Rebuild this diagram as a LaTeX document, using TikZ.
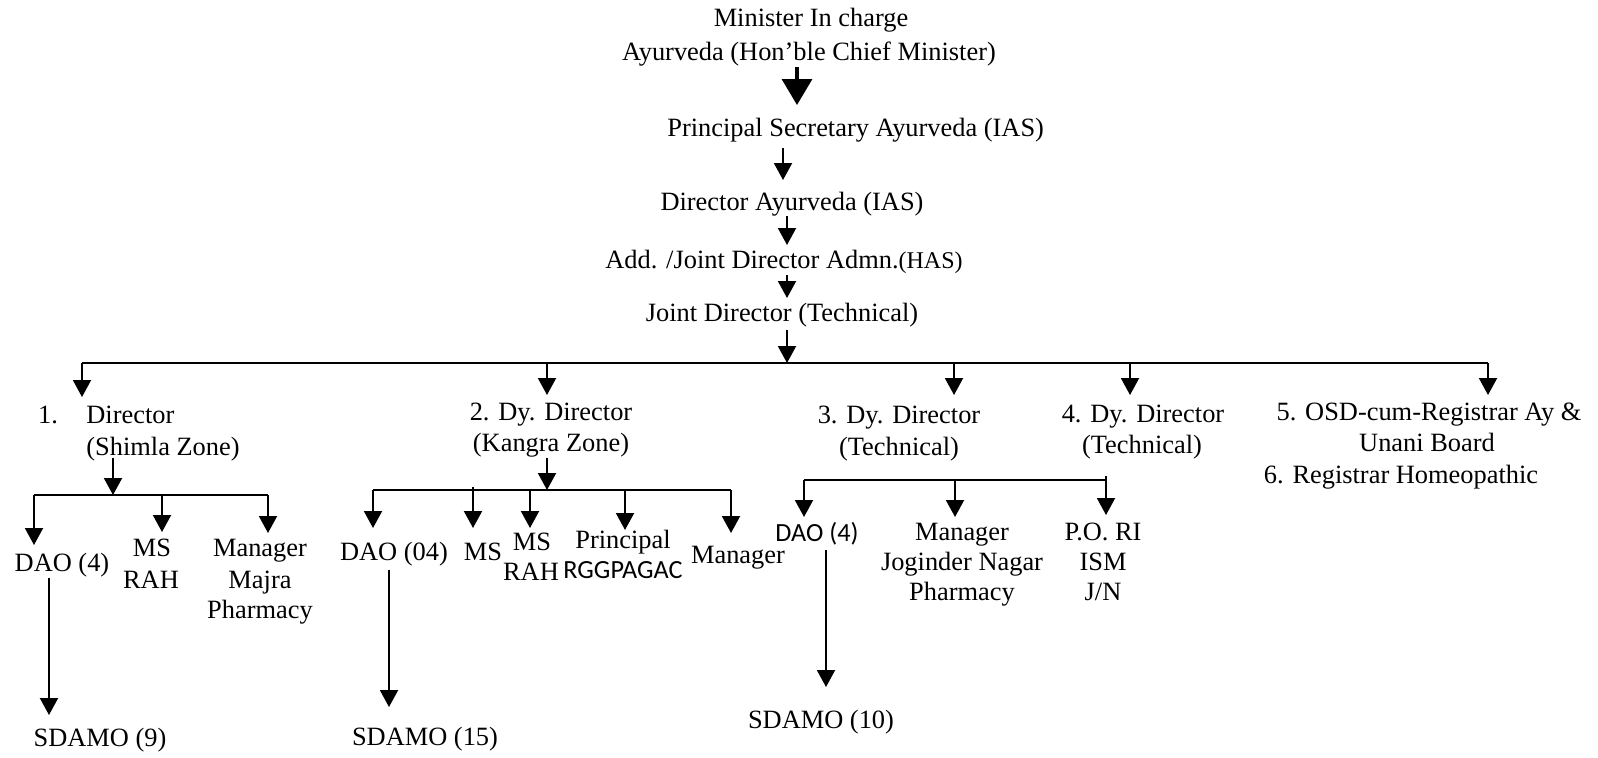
\documentclass[tikz,border=0pt]{standalone}
\usepackage{fontspec}
\setmainfont{Liberation Serif}
\newfontfamily\sansf{Carlito}
\usetikzlibrary{arrows.meta}
\begin{document}
\begin{tikzpicture}[x=0.5pt,y=-0.5pt,
  t/.style={inner sep=0pt, anchor=base, font=\fontsize{13.2}{15}\selectfont},
  ts/.style={inner sep=0pt, anchor=base, font=\sansf\fontsize{13.1}{15}\selectfont},
  ln/.style={line width=1pt},
  arr/.style={line width=1pt, -{Triangle[width=9pt,length=8.5pt]}},
  bigarr/.style={line width=1.6pt, -{Triangle[width=15pt,length=13pt]}}]
\useasboundingbox (0,0) rectangle (1598,757);
% ---- top chain
\node[t] (min1) at (811,26) {Minister In charge};
\node[t] (min2) at (809,60) {Ayurveda (Hon’ble Chief Minister)};
\node[t,anchor=base west] (ps) at (667,136) {Principal Secretary Ayurveda (IAS)};
\node[t] (da) at (792,210) {Director Ayurveda (IAS)};
\node[t] (ad) at (784,268) {Add. /Joint Director Admn.{\fontsize{12}{14}\selectfont(HAS)}};
\node[t] (jd) at (782,321) {Joint Director (Technical)};
\coordinate (c1a) at (797,67);  \coordinate (c1b) at (797,105);
\coordinate (c2a) at (783,148); \coordinate (c2b) at (783,180);
\coordinate (c3a) at (787,216); \coordinate (c3b) at (787,245);
\coordinate (c4a) at (787,275); \coordinate (c4b) at (787,298);
\coordinate (c5a) at (787,330); \coordinate (c5b) at (787,363);
\draw[bigarr] (c1a) -- (c1b);
\draw[arr] (c2a) -- (c2b);
\draw[arr] (c3a) -- (c3b);
\draw[arr] (c4a) -- (c4b);
\draw[arr] (c5a) -- (c5b);
% ---- main bus
\coordinate (b1) at (82,363); \coordinate (b2) at (547,363);
\coordinate (b3) at (954,363); \coordinate (b4) at (1130,363);
\coordinate (b5) at (1488,363);
\draw[ln] (b1) -- (b5);
\coordinate (e1) at (82,397); \coordinate (e2) at (547,395);
\coordinate (e3) at (954,395); \coordinate (e4) at (1130,395);
\coordinate (e5) at (1488,395);
\draw[arr] (b1) -- (e1);
\draw[arr] (b2) -- (e2);
\draw[arr] (b3) -- (e3);
\draw[arr] (b4) -- (e4);
\draw[arr] (b5) -- (e5);
% ---- level 1 labels
\node[t] (n1) at (48,423) {1.};
\node[t,anchor=base west] (d1a) at (86,423) {Director};
\node[t,anchor=base west] (d1b) at (86,455) {(Shimla Zone)};
\node[t] (d2a) at (551,420) {2. Dy. Director};
\node[t] (d2b) at (551,451) {(Kangra Zone)};
\node[t] (d3a) at (899,423) {3. Dy. Director};
\node[t] (d3b) at (899,455) {(Technical)};
\node[t] (d4a) at (1143,422) {4. Dy. Director};
\node[t] (d4b) at (1142,453) {(Technical)};
\node[t] (o5a) at (1429,420) {5. OSD-cum-Registrar Ay \&};
\node[t] (o5b) at (1427,451) {Unani Board};
\node[t] (o6) at (1401,483) {6. Registrar Homeopathic};
% ---- Shimla subtree
\coordinate (sa) at (113,458); \coordinate (sb) at (113,495);
\draw[arr] (sa) -- (sb);
\coordinate (s1) at (34,495); \coordinate (s2) at (162,495); \coordinate (s3) at (268,495);
\draw[ln] (s1) -- (s3);
\coordinate (s1e) at (34,545); \coordinate (s2e) at (162,532); \coordinate (s3e) at (268,533);
\draw[arr] (s1) -- (s1e);
\draw[arr] (s2) -- (s2e);
\draw[arr] (s3) -- (s3e);
\node[t] (sdao) at (62,571) {DAO (4)};
\node[t] (sms1) at (152,556) {MS};
\node[t] (sms2) at (151,588) {RAH};
\node[t] (smg1) at (260,556) {Manager};
\node[t] (smg2) at (260,588) {Majra};
\node[t] (smg3) at (260,618) {Pharmacy};
\coordinate (sd1) at (49,578); \coordinate (sd2) at (49,715);
\draw[arr] (sd1) -- (sd2);
\node[t] (ssd) at (100,746) {SDAMO (9)};
% ---- Kangra subtree
\coordinate (ka) at (547,458); \coordinate (kb) at (547,490);
\draw[arr] (ka) -- (kb);
\coordinate (k1) at (373,490); \coordinate (k2) at (473,487); \coordinate (k3) at (530,490);
\coordinate (k4) at (625,490); \coordinate (k5) at (731,490);
\draw[ln] (k1) -- (k5);
\coordinate (k1e) at (373,528); \coordinate (k2e) at (473,528); \coordinate (k3e) at (530,528);
\coordinate (k4e) at (625,530); \coordinate (k5e) at (731,533);
\draw[arr] (k1) -- (k1e);
\draw[arr] (k2) -- (k2e);
\draw[arr] (k3) -- (k3e);
\draw[arr] (k4) -- (k4e);
\draw[arr] (k5) -- (k5e);
\node[t] (kdao) at (394,560) {DAO (04)};
\node[t] (kms) at (483,560) {MS};
\node[t] (krah1) at (532,550) {MS};
\node[t] (krah2) at (531,580) {RAH};
\node[t] (kpr1) at (623,548) {Principal};
\node[ts] (kpr2) at (623,578) {RGGPAGAC};
\node[t] (kmg) at (738,563) {Manager};
\coordinate (kd1) at (389,570); \coordinate (kd2) at (389,707);
\draw[arr] (kd1) -- (kd2);
\node[t] (ksd) at (425,745) {SDAMO (15)};
% ---- Technical subtree
\coordinate (t1) at (804,480); \coordinate (t2) at (955,480); \coordinate (t3) at (1106,480);
\coordinate (t3u) at (1106,476);
\draw[ln] (t1) -- (t3);
\coordinate (t1e) at (804,517); \coordinate (t2e) at (955,517); \coordinate (t3e) at (1106,515);
\draw[arr] (t1) -- (t1e);
\draw[arr] (t2) -- (t2e);
\draw[arr] (t3u) -- (t3e);
\node[ts] (tdao) at (817,541) {DAO (4)};
\node[t] (tmg1) at (962,540) {Manager};
\node[t] (tmg2) at (962,570) {Joginder Nagar};
\node[t] (tmg3) at (962,600) {Pharmacy};
\node[t] (tpo1) at (1103,540) {P.O. RI};
\node[t] (tpo2) at (1103,570) {ISM};
\node[t] (tpo3) at (1103,600) {J/N};
\coordinate (td1) at (826,550); \coordinate (td2) at (826,687);
\draw[arr] (td1) -- (td2);
\node[t] (tsd) at (821,728) {SDAMO (10)};
\end{tikzpicture}
\end{document}
